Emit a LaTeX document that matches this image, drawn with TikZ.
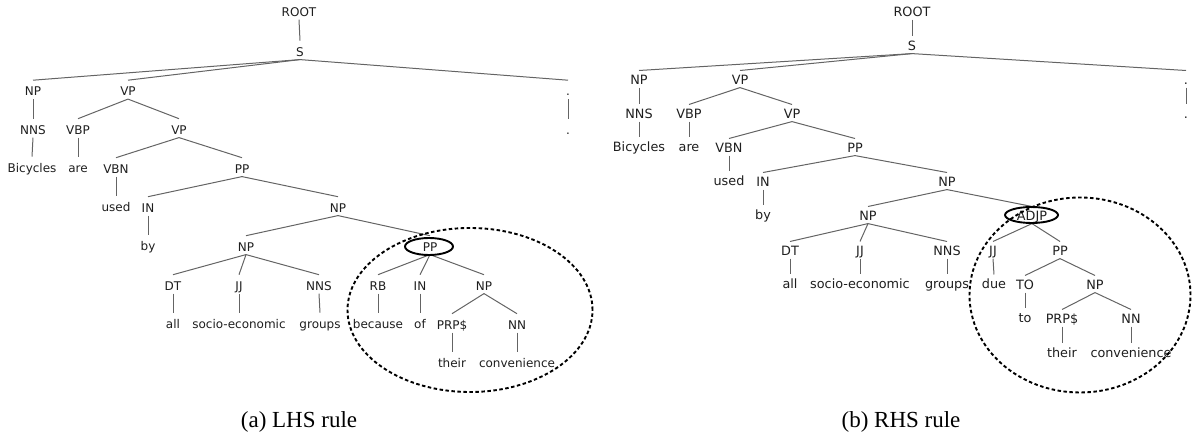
\documentclass[tikz,border=0pt]{standalone}
\usepackage{fontspec}
\setmainfont{Liberation Serif}
\newfontfamily\dvs{DejaVu Sans}
\definecolor{txt}{RGB}{30,30,30}
\definecolor{edge}{RGB}{100,100,100}
\tikzset{
  lt/.style={font=\dvs\fontsize{12pt}{12pt}\selectfont, text=txt, anchor=base, yshift=-4.4pt,
    text height=15.5pt, text depth=3pt, inner ysep=0pt, inner xsep=1pt},
  rt/.style={font=\dvs\fontsize{12.8pt}{12.8pt}\selectfont, text=txt, anchor=base, yshift=-4.7pt,
    text height=14pt, text depth=2.7pt, inner ysep=0pt, inner xsep=1pt},
  tedge/.style={draw=edge, line width=1pt},
  circ/.style={draw=black, line width=1.9pt},
  region/.style={draw=black, line width=1.9pt, dash pattern=on 3.5pt off 2.5pt},
  captext/.style={font=\fontsize{23pt}{23pt}\selectfont, anchor=base, inner sep=0pt}
}
\begin{document}
\begin{tikzpicture}[x=1pt,y=-1pt]
\useasboundingbox (0,0) rectangle (1192,435);
% ---------- left tree ----------
\node[lt] (aROOT) at (299,12) {ROOT};
\node[lt] (aS) at (300,52) {S};
\node[lt] (aNP) at (33,91.5) {NP};
\node[lt] (aVP) at (128,91.5) {VP};
\node[lt] (aPU) at (568,91.5) {.};
\node[lt] (aNNS) at (33,130) {NNS};
\node[lt] (aVBP) at (78,130) {VBP};
\node[lt] (aVP2) at (179,130) {VP};
\node[lt] (aPUw) at (568,130) {.};
\node[lt] (aBic) at (32,168) {Bicycles};
\node[lt] (aare) at (78,168) {are};
\node[lt] (aVBN) at (116,169) {VBN};
\node[lt] (aPP) at (242,169) {PP};
\node[lt] (aused) at (116,207) {used};
\node[lt] (aIN) at (148,208) {IN};
\node[lt] (aNP2) at (338,208) {NP};
\node[lt] (aby) at (148,246) {by};
\node[lt] (aNP3) at (246,247) {NP};
\node[lt] (aPP2) at (430,247) {PP};
\node[lt] (aDT) at (173,286) {DT};
\node[lt] (aJJ) at (239,286) {JJ};
\node[lt] (aNNS2) at (319,286) {NNS};
\node[lt] (aRB) at (378,286) {RB};
\node[lt] (aIN2) at (420,286) {IN};
\node[lt] (aNP4) at (484,286) {NP};
\node[lt] (aall) at (173,324) {all};
\node[lt] (asoc) at (239,324) {socio-economic};
\node[lt] (agro) at (320,324) {groups};
\node[lt] (abec) at (378,324) {because};
\node[lt] (aof) at (420,324) {of};
\node[lt] (aPRP) at (452,325) {PRP\$};
\node[lt] (aNN) at (517,325) {NN};
\node[lt] (ather) at (452,363) {their};
\node[lt] (acon) at (517,363) {convenience};
\foreach \p/\c in {aROOT/aS, aS/aNP, aS/aVP, aS/aPU, aPU/aPUw, aNP/aNNS, aNNS/aBic,
  aVP/aVBP, aVBP/aare, aVP/aVP2, aVP2/aVBN, aVBN/aused, aVP2/aPP, aPP/aIN, aIN/aby,
  aPP/aNP2, aNP2/aNP3, aNP2/aPP2, aNP3/aDT, aDT/aall, aNP3/aJJ, aJJ/asoc, aNP3/aNNS2,
  aNNS2/agro, aPP2/aRB, aRB/abec, aPP2/aIN2, aIN2/aof, aPP2/aNP4, aNP4/aPRP, aPRP/ather,
  aNP4/aNN, aNN/acon}
  \draw[tedge] (\p.south) -- (\c.north);
\draw[circ] (429,246.5) ellipse [x radius=24pt, y radius=8.5pt];
\draw[region] (470,310) ellipse [x radius=122.5pt, y radius=82pt];
\node[captext] (capa) at (299,428) {(a) LHS rule};
% ---------- right tree ----------
\node[rt] (bROOT) at (912,12) {ROOT};
\node[rt] (bS) at (912,46) {S};
\node[rt] (bNP) at (639,80) {NP};
\node[rt] (bVP) at (740,80) {VP};
\node[rt] (bPU) at (1186,80) {.};
\node[rt] (bNNS) at (639,114) {NNS};
\node[rt] (bVBP) at (689,114) {VBP};
\node[rt] (bVP2) at (792,114) {VP};
\node[rt] (bPUw) at (1186,114) {.};
\node[rt] (bBic) at (639,147) {Bicycles};
\node[rt] (bare) at (689,147) {are};
\node[rt] (bVBN) at (729,148) {VBN};
\node[rt] (bPP) at (855,148) {PP};
\node[rt] (bused) at (729,181) {used};
\node[rt] (bIN) at (763,182) {IN};
\node[rt] (bNP2) at (947,182) {NP};
\node[rt] (bby) at (763,215) {by};
\node[rt] (bNP3) at (868,216) {NP};
\node[rt] (bADJP) at (1032,216) {ADJP};
\node[rt] (bDT) at (790,251) {DT};
\node[rt] (bJJ) at (860,251) {JJ};
\node[rt] (bNNS2) at (947,251) {NNS};
\node[rt] (bJJ2) at (993,251) {JJ};
\node[rt] (bPP2) at (1060,251) {PP};
\node[rt] (ball) at (790,284) {all};
\node[rt] (bsoc) at (860,284) {socio-economic};
\node[rt] (bgro) at (947,284) {groups};
\node[rt] (bdue) at (994,284) {due};
\node[rt] (bTO) at (1025,285) {TO};
\node[rt] (bNP4) at (1095,285) {NP};
\node[rt] (bto) at (1025,318) {to};
\node[rt] (bPRP) at (1062,319) {PRP\$};
\node[rt] (bNN) at (1131,319) {NN};
\node[rt] (bther) at (1062,353) {their};
\node[rt] (bcon) at (1131,353) {convenience};
\foreach \p/\c in {bROOT/bS, bS/bNP, bS/bVP, bS/bPU, bPU/bPUw, bNP/bNNS, bNNS/bBic,
  bVP/bVBP, bVBP/bare, bVP/bVP2, bVP2/bVBN, bVBN/bused, bVP2/bPP, bPP/bIN, bIN/bby,
  bPP/bNP2, bNP2/bNP3, bNP2/bADJP, bNP3/bDT, bDT/ball, bNP3/bJJ, bJJ/bsoc, bNP3/bNNS2,
  bNNS2/bgro, bADJP/bJJ2, bJJ2/bdue, bADJP/bPP2, bPP2/bTO, bTO/bto, bPP2/bNP4,
  bNP4/bPRP, bPRP/bther, bNP4/bNN, bNN/bcon}
  \draw[tedge] (\p.south) -- (\c.north);
\draw[circ] (1031.5,215) ellipse [x radius=26.5pt, y radius=8pt];
\draw[region] (1080,295) ellipse [x radius=110.5pt, y radius=97.5pt];
\node[captext] (capb) at (901,428) {(b) RHS rule};
\end{tikzpicture}
\end{document}
